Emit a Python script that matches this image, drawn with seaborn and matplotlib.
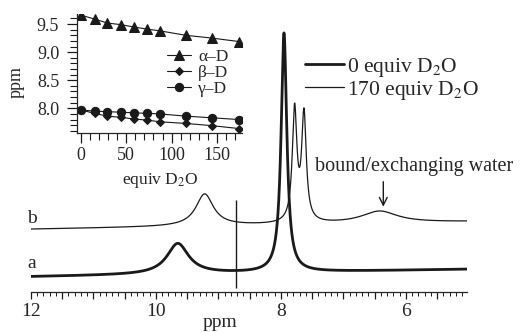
import numpy as np
import pandas as pd
import matplotlib
matplotlib.use("Agg")
import matplotlib.pyplot as plt
import seaborn as sns
from matplotlib.ticker import MultipleLocator, FuncFormatter

# inset: chemical shift vs added D2O
equiv = [0, 15, 29, 44, 58, 73, 87, 116, 145, 174]
alpha_d = [9.66, 9.59, 9.52, 9.49, 9.45, 9.41, 9.38, 9.30, 9.25, 9.19]
beta_d = [7.97, 7.91, 7.86, 7.84, 7.81, 7.79, 7.76, 7.73, 7.69, 7.64]
gamma_d = [7.97, 7.95, 7.94, 7.93, 7.92, 7.91, 7.90, 7.86, 7.83, 7.80]
inset_series = ["α–D", "β–D", "γ–D"]

# spectra (lorentzian lines), intensity in arbitrary units
peaks_a_ppm = [9.65, 7.95]
peaks_a_height = [30.6, 239.0]
peaks_a_hwhm = [0.21, 0.055]
base_a = [15.0, 22.5]          # baseline at 12 ppm and 5 ppm

peaks_b_ppm = [9.22, 7.78, 7.63, 6.42]
peaks_b_height = [32.0, 112.0, 106.5, 11.9]
peaks_b_hwhm = [0.17, 0.044, 0.044, 0.35]
base_b = [62.5, 70.0]

spectrum_labels = ["0 equiv D$_2$O", "170 equiv D$_2$O"]
marker_ppm = 8.72
water_ppm = 6.36


def spectrum(ppm, centers, heights, hwhm, base):
    y = base[0] + (base[1] - base[0]) * (12 - ppm) / 7.0
    for c, h, w in zip(centers, heights, hwhm):
        y = y + h * w**2 / (w**2 + (ppm - c) ** 2)
    return y


sns.set_theme(style="ticks")
plt.rcParams["font.family"] = ["Liberation Serif", "DejaVu Serif"]
plt.rcParams["mathtext.fontset"] = "stix"
plt.rcParams["axes.linewidth"] = 0.9

W, H = 527, 333
fig = plt.figure(figsize=(W / 100, H / 100), dpi=100)

# ---- main spectrum axes ----
ax = fig.add_axes([31 / W, (H - 291.7) / H, 436 / W, 291.7 / H])
ax.patch.set_alpha(0)
ppm = np.linspace(12, 5, 3501)
df = pd.DataFrame({
    "ppm": ppm,
    "a": spectrum(ppm, peaks_a_ppm, peaks_a_height, peaks_a_hwhm, base_a),
    "b": spectrum(ppm, peaks_b_ppm, peaks_b_height, peaks_b_hwhm, base_b),
})
sns.lineplot(data=df, x="ppm", y="a", ax=ax, color="k", lw=2.0,
             estimator=None, sort=False, label=spectrum_labels[0])
sns.lineplot(data=df, x="ppm", y="b", ax=ax, color="k", lw=0.9,
             estimator=None, sort=False, label=spectrum_labels[1])
ax.vlines(marker_ppm, 3.4, 91.7, color="k", lw=1.0)

ax.set_xlim(12, 5.02)
ax.set_ylim(0, 291.7)
for s in ["left", "right", "top"]:
    ax.spines[s].set_visible(False)
ax.set_yticks([])
ax.set_ylabel("")
ax.xaxis.set_major_locator(MultipleLocator(0.5))
ax.xaxis.set_minor_locator(MultipleLocator(0.1))
ax.xaxis.set_major_formatter(FuncFormatter(
    lambda v, p: f"{v:.0f}" if abs(v - round(v)) < 1e-6 and round(v) % 2 == 0 else ""))
ax.tick_params(axis="x", which="major", direction="out", length=5, width=0.9,
               labelsize=14, pad=3, color="k")
ax.tick_params(axis="x", which="minor", direction="out", length=3, width=0.7, color="k")
ax.set_xlabel("ppm", fontsize=14)
ax.xaxis.set_label_coords(0.433, -0.075)

ax.text(12.065, 69, "b", fontsize=14, ha="left", va="baseline")
ax.text(12.065, 23.7, "a", fontsize=14, ha="left", va="baseline")
ax.text(7.456, 120.7, "bound/exchanging water", fontsize=14.5, ha="left",
        va="baseline", clip_on=False)
ax.annotate("", xy=(water_ppm, 85), xytext=(water_ppm, 110),
            arrowprops=dict(arrowstyle="->", color="k", lw=1.0,
                            shrinkA=0, shrinkB=0, mutation_scale=14))

h, l = ax.get_legend_handles_labels()
ax.legend(h, l, loc="upper left", bbox_to_anchor=(305 / W, 1 - 56 / H),
          bbox_transform=fig.transFigure, frameon=False, fontsize=15.5,
          handlelength=1.8, handletextpad=0.15, labelspacing=0.0,
          borderpad=0, borderaxespad=0)

# ---- inset ----
axi = fig.add_axes([77.3 / W, (H - 133) / H, 165 / W, 119 / H])
axi.patch.set_alpha(0)
dfi = pd.DataFrame({"equiv": equiv, inset_series[0]: alpha_d,
                    inset_series[1]: beta_d, inset_series[2]: gamma_d})
dfi = dfi.melt(id_vars="equiv", var_name="proton", value_name="shift")
markers = {inset_series[0]: "^", inset_series[1]: "D", inset_series[2]: "o"}
sizes = {inset_series[0]: 6.5, inset_series[1]: 4.5, inset_series[2]: 6}
for name in inset_series:
    sub = dfi[dfi["proton"] == name]
    sns.lineplot(data=sub, x="equiv", y="shift", ax=axi, color="k", lw=0.8,
                 marker=markers[name], markersize=sizes[name],
                 markeredgecolor="k", markerfacecolor="k",
                 estimator=None, label=name)
axi.set_xlim(-4, 178)
axi.set_ylim(7.56, 9.68)
axi.spines["top"].set_visible(False)
axi.spines["right"].set_visible(False)
axi.xaxis.set_major_locator(MultipleLocator(50))
axi.xaxis.set_minor_locator(MultipleLocator(10))
axi.yaxis.set_major_locator(MultipleLocator(0.5))
axi.yaxis.set_minor_locator(MultipleLocator(0.1))
axi.yaxis.set_major_formatter(FuncFormatter(lambda v, p: f"{v:.1f}"))
axi.tick_params(axis="x", which="major", direction="out", length=7, width=0.9,
                labelsize=13, pad=3, color="k")
axi.tick_params(axis="x", which="minor", direction="out", length=5, width=0.8, color="k")
axi.tick_params(axis="y", which="major", direction="out", length=7, width=0.9,
                labelsize=13, pad=6, color="k")
axi.tick_params(axis="y", which="minor", direction="out", length=5, width=0.8, color="k")
axi.set_xlabel("equiv D$_2$O", fontsize=12.5)
axi.set_ylabel("ppm", fontsize=13)
axi.xaxis.set_label_coords(0.5, -0.32)
axi.yaxis.set_label_coords(-0.32, 0.43)
hi, li = axi.get_legend_handles_labels()
axi.legend(hi, li, loc="upper left", bbox_to_anchor=(167 / W, 1 - 49 / H),
           bbox_transform=fig.transFigure, frameon=False, fontsize=12.5,
           handlelength=1.4, handletextpad=0.4, labelspacing=0.0,
           borderpad=0, borderaxespad=0)

fig.savefig("out.png", dpi=100)
